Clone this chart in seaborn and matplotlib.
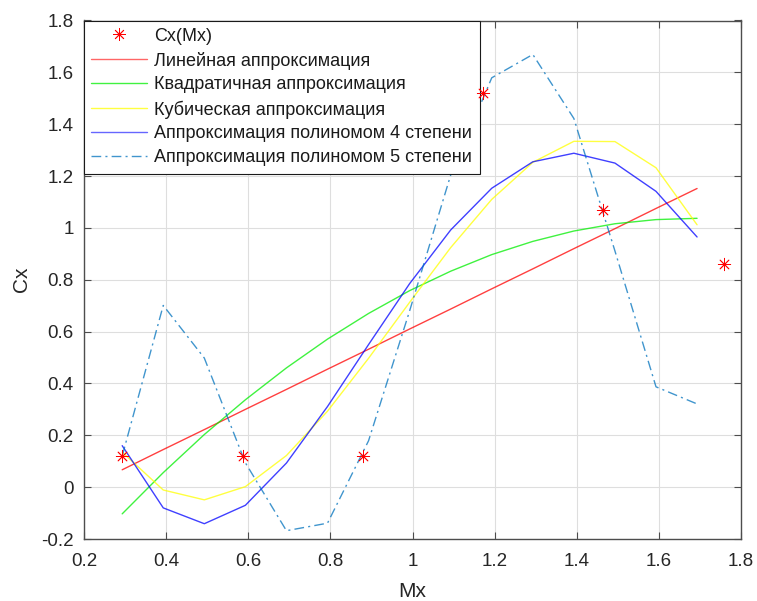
import numpy as np
import pandas as pd
import matplotlib
matplotlib.use("Agg")
import matplotlib.pyplot as plt
import seaborn as sns
from matplotlib.lines import Line2D

# Measured points Cx(Mx)
mx_points = [0.293, 0.586, 0.879, 1.172, 1.465, 1.758]
cx_points = [0.12, 0.12, 0.12, 1.52, 1.07, 0.86]

# Grid on which the approximations are drawn
mx_grid = [0.293, 0.393, 0.493, 0.593, 0.693, 0.793, 0.893, 0.993,
           1.093, 1.193, 1.293, 1.393, 1.493, 1.593, 1.693]

cx_linear = [0.067, 0.145, 0.222, 0.300, 0.377, 0.455, 0.532, 0.610,
             0.687, 0.765, 0.842, 0.920, 0.997, 1.075, 1.152]
cx_quadratic = [-0.103, 0.056, 0.203, 0.337, 0.460, 0.571, 0.670, 0.758,
                0.833, 0.897, 0.948, 0.988, 1.016, 1.032, 1.037]
cx_cubic = [0.135, -0.011, -0.049, 0.002, 0.122, 0.293, 0.497, 0.713,
            0.924, 1.110, 1.253, 1.334, 1.333, 1.232, 1.012]
cx_poly4 = [0.160, -0.080, -0.141, -0.070, 0.093, 0.311, 0.550, 0.785,
            0.992, 1.153, 1.255, 1.288, 1.250, 1.141, 0.965]
cx_poly5 = [0.120, 0.701, 0.498, 0.094, -0.168, -0.139, 0.179, 0.680,
            1.204, 1.579, 1.669, 1.422, 0.911, 0.387, 0.321]

labels = ["Cx(Mx)",
          "Линейная аппроксимация",
          "Квадратичная аппроксимация",
          "Кубическая аппроксимация",
          "Аппроксимация полиномом 4 степени",
          "Аппроксимация полиномом 5 степени"]

x_ticks = [0.2, 0.4, 0.6, 0.8, 1.0, 1.2, 1.4, 1.6, 1.8]
x_tick_labels = ["0.2", "0.4", "0.6", "0.8", "1", "1.2", "1.4", "1.6", "1.8"]
y_ticks = [-0.2, 0.0, 0.2, 0.4, 0.6, 0.8, 1.0, 1.2, 1.4, 1.6, 1.8]
y_tick_labels = ["-0.2", "0", "0.2", "0.4", "0.6", "0.8", "1", "1.2", "1.4", "1.6", "1.8"]

sns.set_theme(style="whitegrid")
plt.rcParams["font.family"] = ["Liberation Sans", "DejaVu Sans"]
text_color = "#262626"

fig = plt.figure(figsize=(7.57, 6.01), dpi=100)
ax = fig.add_axes([84 / 757, 1 - 539 / 601, (741 - 84) / 757, (539 - 20.5) / 601])
ax.set_facecolor("white")

curves = pd.DataFrame({
    "Mx": mx_grid,
    "linear": cx_linear,
    "quadratic": cx_quadratic,
    "cubic": cx_cubic,
    "poly4": cx_poly4,
    "poly5": cx_poly5,
})
points = pd.DataFrame({"Mx": mx_points, "Cx": cx_points})

dashdot = (0, (7, 3, 1.5, 3))
styles = [
    ("linear", "#ff0000", "-"),
    ("quadratic", "#00ee00", "-"),
    ("cubic", "#ffff00", "-"),
    ("poly4", "#0000ff", "-"),
    ("poly5", "#0072BD", dashdot),
]

for col, color, ls in styles:
    sns.lineplot(data=curves, x="Mx", y=col, ax=ax, color=color,
                 linestyle=ls, linewidth=1.0, alpha=0.75, legend=False,
                 estimator=None, sort=False)

star = (8, 2, 0)
sns.scatterplot(data=points, x="Mx", y="Cx", ax=ax, marker=star, s=80,
                color="#ff0000", edgecolor="#ff0000", linewidth=0.6,
                legend=False, zorder=5)

ax.set_xlim(0.2, 1.8)
ax.set_ylim(-0.2, 1.8)
ax.set_xticks(x_ticks)
ax.set_xticklabels(x_tick_labels)
ax.set_yticks(y_ticks)
ax.set_yticklabels(y_tick_labels)
ax.set_xlabel("Mx", fontsize=15, color=text_color, labelpad=9)
ax.set_ylabel("Cx", fontsize=15, color=text_color, labelpad=7)

ax.grid(True, color="#dedede", linewidth=0.8)
ax.tick_params(axis="both", which="both", direction="in", length=5, width=0.8,
               colors="#4d4d4d", labelcolor=text_color, labelsize=13.5,
               top=True, right=True, bottom=True, left=True)
ax.tick_params(axis="x", pad=10)
ax.tick_params(axis="y", pad=7.5)
for spine in ax.spines.values():
    spine.set_visible(True)
    spine.set_color("#4d4d4d")
    spine.set_linewidth(1.0)

handles = [
    Line2D([], [], linestyle="none", marker=star, markersize=9,
           color="#ff0000", markeredgewidth=0.6),
    Line2D([], [], color="#ff0000", lw=1.0, alpha=0.6),
    Line2D([], [], color="#00ee00", lw=1.0, alpha=0.75),
    Line2D([], [], color="#ffff00", lw=1.0, alpha=0.75),
    Line2D([], [], color="#0000ff", lw=1.0, alpha=0.6),
    Line2D([], [], color="#0072BD", lw=1.0, alpha=0.75, linestyle=dashdot),
]
leg = ax.legend(handles, labels, loc="upper left", fontsize=13,
                frameon=True, fancybox=False, framealpha=1.0,
                borderaxespad=0.0, borderpad=0.4, labelspacing=0.38,
                handlelength=3.1, handletextpad=0.4, labelcolor="#1a1a1a")
leg.get_frame().set_edgecolor("#1a1a1a")
leg.get_frame().set_linewidth(0.8)
leg.set_zorder(4)

fig.savefig("out.png", dpi=100)
